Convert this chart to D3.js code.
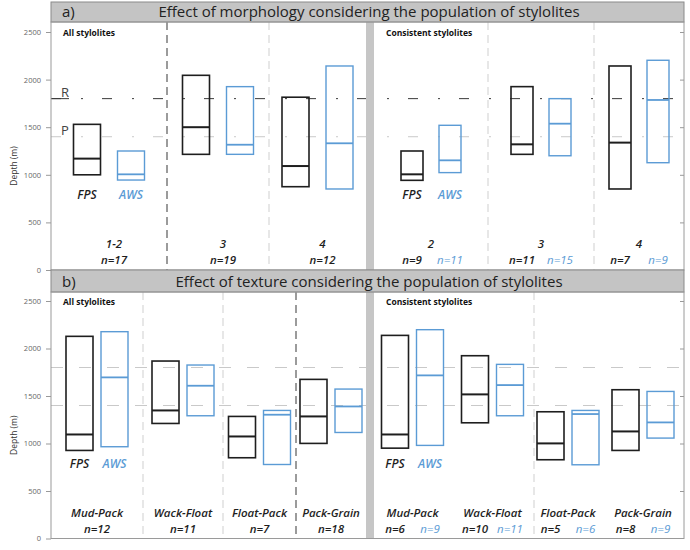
<!DOCTYPE html>
<html><head><meta charset="utf-8">
<script src="https://cdn.jsdelivr.net/npm/d3@7"></script>
<style>
body{margin:0;background:#fff}
svg{display:block}
text{font-family:"Open Sans",sans-serif}
</style>
</head><body><svg id="chart" width="690" height="550"></svg>
<script>
// ---------------- DATA ----------------
const series = ["FPS", "AWS"];
const depthTicks = [0, 500, 1000, 1500, 2000, 2500];
const refNames = ["R", "P"];
const refDepths = [1800, 1400];

const panelTags = ["a)", "b)"];
const panelTitles = ["Effect of morphology considering the population of stylolites",
                     "Effect of texture considering the population of stylolites"];
const halfTitles = ["All stylolites", "Consistent stylolites"];

// morphology: [min, median, max] depth (m)
const morphCats = ["1-2", "3", "4"];
const morphAllN = ["n=17", "n=19", "n=12"];
const morphAllFPS = [[1000, 1170, 1530], [1215, 1500, 2045], [875, 1092, 1815]];
const morphAllAWS = [[945, 1005, 1250], [1215, 1316, 1926], [851, 1331, 2143]];
const morphConsCats = ["2", "3", "4"];
const morphConsNFPS = ["n=9", "n=11", "n=7"];
const morphConsNAWS = ["n=11", "n=15", "n=9"];
const morphConsFPS = [[942, 1005, 1250], [1215, 1320, 1926], [851, 1338, 2143]];
const morphConsAWS = [[1023, 1152, 1520], [1200, 1537, 1800], [1127, 1786, 2203]];

// texture
const textureCats = ["Mud-Pack", "Wack-Float", "Float-Pack", "Pack-Grain"];
const textureAllN = ["n=12", "n=11", "n=7", "n=18"];
const textureAllFPS = [[927, 1095, 2128], [1211, 1348, 1868], [850, 1074, 1285], [1001, 1285, 1675]];
const textureAllAWS = [[966, 1696, 2177], [1292, 1608, 1826], [779, 1303, 1348], [1116, 1390, 1573]];
const textureConsNFPS = ["n=6", "n=10", "n=5", "n=8"];
const textureConsNAWS = ["n=9", "n=11", "n=6", "n=9"];
const textureConsFPS = [[951, 1095, 2138], [1218, 1517, 1924], [829, 1001, 1334], [927, 1127, 1566]];
const textureConsAWS = [[980, 1717, 2198], [1292, 1615, 1833], [776, 1310, 1348], [1057, 1222, 1548]];

// ---------------- LAYOUT ----------------
const svg = d3.select("#chart");
const FR = {left: 51, right: 684};
const SEP = [366, 374];
const colors = {FPS: "#1e1e1e", AWS: "#5b9bd5"};
const boxStroke = {FPS: 1.6, AWS: 1.4};
const LABEL_FS = 11.5;

const panels = [
  {tag: panelTags[0], title: panelTitles[0], hTop: 2, hBot: 22, y0: 270, yTop: 32, refDark: true,
   halves: [
     {label: halfTitles[0], cats: morphCats, fps: morphAllFPS, aws: morphAllAWS, nAll: morphAllN,
      edges: [51, 167, 269, 366], boxW: 27, gap: 17, dividers: [[1, true], [2, false]]},
     {label: halfTitles[1], cats: morphConsCats, fps: morphConsFPS, aws: morphConsAWS,
      nFPS: morphConsNFPS, nAWS: morphConsNAWS,
      edges: [374, 488, 594, 684], boxW: 22, gap: 16, dividers: [[1, false], [2, false]]}
   ]},
  {tag: panelTags[1], title: panelTitles[1], hTop: 270, hBot: 292, y0: 538.5, yTop: 301, refDark: false,
   halves: [
     {label: halfTitles[0], cats: textureCats, fps: textureAllFPS, aws: textureAllAWS, nAll: textureAllN,
      edges: [51, 143, 223, 296, 366], boxW: 27, gap: 8, dividers: [[1, false], [2, false], [3, true]]},
     {label: halfTitles[1], cats: textureCats, fps: textureConsFPS, aws: textureConsAWS,
      nFPS: textureConsNFPS, nAWS: textureConsNAWS,
      edges: [374, 451, 534, 602, 684], boxW: 27, gap: 8, dividers: [[2, false]]}
   ]}
];

panels.forEach(p => {
  const g = svg.append("g");
  const y = d3.scaleLinear().domain([0, 2500]).range([p.y0, p.yTop]);

  // reference lines
  refDepths.forEach((d, i) => {
    g.append("line")
      .attr("x1", FR.left).attr("x2", FR.right)
      .attr("y1", y(d)).attr("y2", y(d))
      .attr("stroke", (p.refDark && i === 0) ? "#3a3a3a" : "#c9c9c9")
      .attr("stroke-width", 1)
      .attr("stroke-dasharray", p.refDark ? "10,20,2,19" : "12,16");
    if (p.refDark) {
      g.append("text").attr("x", 61).attr("y", y(d) - 2)
        .attr("font-size", 13).attr("fill", "#444").text(refNames[i]);
      if (i === 0) {
        g.append("line").attr("x1", FR.left).attr("x2", 69)
          .attr("y1", y(d)).attr("y2", y(d)).attr("stroke", "#3a3a3a");
      }
    }
  });

  // halves
  p.halves.forEach(h => {
    const n = h.cats.length;
    const xEdge = d3.scaleLinear().domain(d3.range(n + 1)).range(h.edges);
    const center = i => (xEdge(i) + xEdge(i + 1)) / 2;
    const span = 2 * h.boxW + h.gap;
    const sub = d3.scaleBand().domain(series).range([-span / 2, span / 2])
      .paddingInner(h.gap / (h.boxW + h.gap)).paddingOuter(0);

    // dividers
    h.dividers.forEach(([k, dark]) => {
      g.append("line")
        .attr("x1", xEdge(k)).attr("x2", xEdge(k))
        .attr("y1", p.hBot).attr("y2", p.y0)
        .attr("stroke", dark ? "#4a4a4a" : "#cfcfcf")
        .attr("stroke-width", dark ? 1.1 : 1)
        .attr("stroke-dasharray", "8,5");
    });

    // boxes
    const dataSets = {FPS: h.fps, AWS: h.aws};
    series.forEach(s => {
      const bg = g.append("g");
      bg.selectAll("rect").data(dataSets[s]).join("rect")
        .attr("x", (d, i) => center(i) + sub(s))
        .attr("width", sub.bandwidth())
        .attr("y", d => y(d[2]))
        .attr("height", d => y(d[0]) - y(d[2]))
        .attr("fill", "none").attr("stroke", colors[s]).attr("stroke-width", boxStroke[s]);
      bg.selectAll("line").data(dataSets[s]).join("line")
        .attr("x1", (d, i) => center(i) + sub(s))
        .attr("x2", (d, i) => center(i) + sub(s) + sub.bandwidth())
        .attr("y1", d => y(d[1])).attr("y2", d => y(d[1]))
        .attr("stroke", colors[s]).attr("stroke-width", boxStroke[s] + 0.4);
      // series label under first group
      bg.append("text")
        .attr("x", center(0) + sub(s) + sub.bandwidth() / 2)
        .attr("y", y(745))
        .attr("text-anchor", "middle")
        .attr("font-size", 12).attr("font-style", "italic").attr("font-weight", 600)
        .attr("fill", colors[s]).text(s);
    });

    // category and n labels
    const labG = g.append("g").attr("font-style", "italic").attr("font-weight", 600).attr("font-size", LABEL_FS);
    labG.selectAll("text.cat").data(h.cats).join("text").attr("class", "cat")
      .attr("x", (d, i) => center(i) + (n === 3 && h.nAll ? 5 : 0))
      .attr("y", p.y0 - 22)
      .attr("text-anchor", "middle").attr("fill", "#1e1e1e").text(d => d);
    if (h.nAll) {
      labG.selectAll("text.n").data(h.nAll).join("text").attr("class", "n")
        .attr("x", (d, i) => center(i) + (n === 3 ? 5 : 0))
        .attr("y", p.y0 - 6)
        .attr("text-anchor", "middle").attr("fill", "#1e1e1e").text(d => d);
    } else {
      [["FPS", h.nFPS], ["AWS", h.nAWS]].forEach(([s, arr]) => {
        labG.selectAll("text.n" + s).data(arr).join("text").attr("class", "n" + s)
          .attr("x", (d, i) => center(i) + sub(s) + sub.bandwidth() / 2)
          .attr("y", p.y0 - 6)
          .attr("text-anchor", "middle").attr("fill", colors[s])
          .attr("font-weight", s === "AWS" ? 400 : 600).text(d => d);
      });
    }

    // half title
    g.append("text").attr("x", h.edges[0] + 12).attr("y", p.yTop + 4)
      .attr("font-size", 8.5).attr("font-weight", 700).attr("fill", "#111").text(h.label);
  });

  // separator between halves
  g.append("rect").attr("x", SEP[0]).attr("y", p.hBot)
    .attr("width", SEP[1] - SEP[0]).attr("height", p.y0 - p.hBot).attr("fill", "#c6c6c6");

  // left axis
  const axL = g.append("g").attr("transform", `translate(${FR.left},0)`)
    .call(d3.axisLeft(y).tickValues(depthTicks).tickSize(5).tickPadding(5).tickFormat(d3.format("d")));
  axL.select(".domain").remove();
  axL.selectAll(".tick line").attr("stroke", "#999");
  axL.selectAll(".tick text").attr("fill", "#666").attr("font-size", 7.5)
    .attr("font-family", "'Open Sans',sans-serif");

  // right inner ticks
  const axR = g.append("g").attr("transform", `translate(${FR.right},0)`)
    .call(d3.axisLeft(y).tickValues(depthTicks.filter(d => d > 0)).tickSize(4).tickFormat(""));
  axR.select(".domain").remove();
  axR.selectAll(".tick line").attr("stroke", "#999");

  // axis title
  g.append("text")
    .attr("transform", `translate(17,${(p.hBot + p.y0) / 2 + 20}) rotate(-90)`)
    .attr("text-anchor", "middle").attr("font-size", 8.5).attr("fill", "#333").text("Depth (m)");

  // header
  g.append("rect").attr("x", FR.left).attr("y", p.hTop)
    .attr("width", FR.right - FR.left).attr("height", p.hBot - p.hTop)
    .attr("fill", "#c4c4c4").attr("stroke", "#8a8a8a").attr("stroke-width", 1);
  g.append("text").attr("x", 62).attr("y", p.hBot - 5)
    .attr("font-size", 15).attr("fill", "#222").text(p.tag);
  g.append("text").attr("x", 369).attr("y", p.hBot - 5)
    .attr("text-anchor", "middle").attr("font-size", 15).attr("fill", "#222").text(p.title);

  // frame of plot area
  g.append("rect").attr("x", FR.left).attr("y", p.hBot)
    .attr("width", FR.right - FR.left).attr("height", p.y0 - p.hBot)
    .attr("fill", "none").attr("stroke", "#9a9a9a").attr("stroke-width", 1);
});
</script>
</body></html>
